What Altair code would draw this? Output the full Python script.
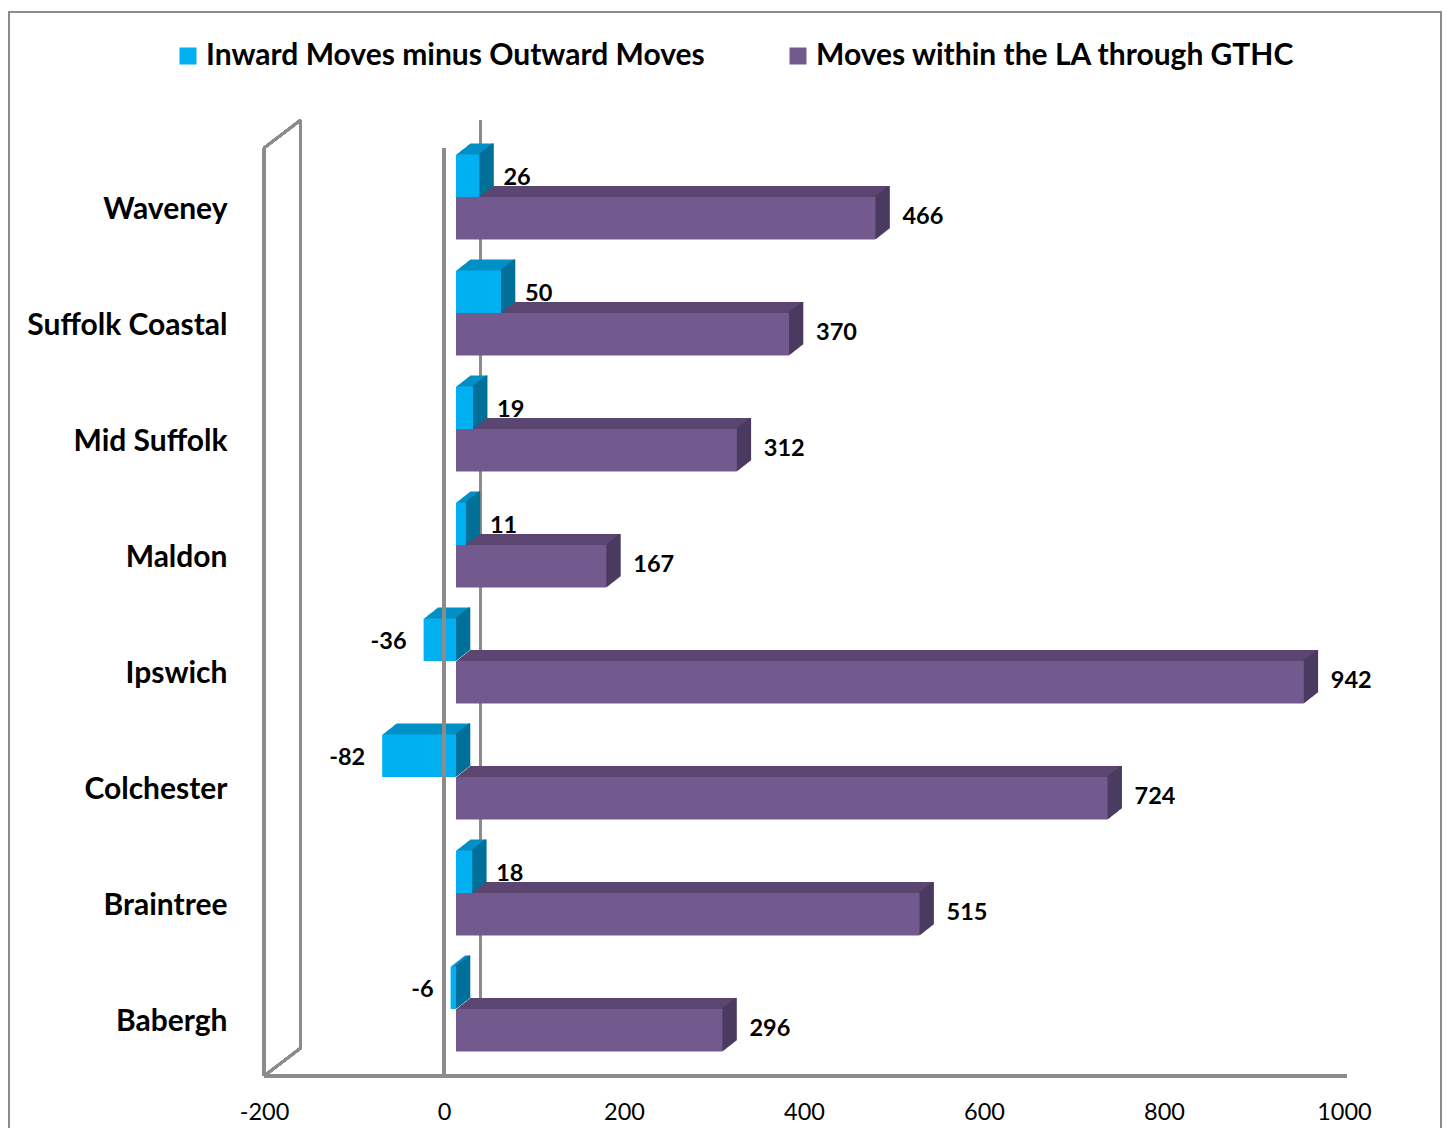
import altair as alt
import pandas as pd

# ---------------- data ----------------
categories = ["Waveney", "Suffolk Coastal", "Mid Suffolk", "Maldon",
              "Ipswich", "Colchester", "Braintree", "Babergh"]
series_names = ["Inward Moves minus Outward Moves",
                "Moves within the LA through GTHC"]
net_moves = [26, 50, 19, 11, -36, -82, 18, -6]
within_moves = [466, 370, 312, 167, 942, 724, 515, 296]
x_ticks = [-200, 0, 200, 400, 600, 800, 1000]

# ---------------- styles ----------------
FRONT = {series_names[0]: "#00B0F0", series_names[1]: "#735A8E"}
TOP = {series_names[0]: "#0090C6", series_names[1]: "#5B4672"}
SIDE = {series_names[0]: "#00709A", series_names[1]: "#4B3B60"}
GRAY = "#8C8C8C"
FONT = "Lato"

W, H = 1080, 928
BAR_H = 42.5
SERIES_SHIFT = {series_names[0]: -BAR_H / 2, series_names[1]: BAR_H / 2}
BASE_DX, BASE_DY = 12, -9          # bars sit a bit behind the front plane
DEPTH_DX, DEPTH_DY = 14, -11       # bar extrusion
WALL_DX, WALL_DY = 36.7, -28       # full depth of the box
N = 14

rows = []
for s, vals in zip(series_names, [net_moves, within_moves]):
    for c, v in zip(categories, vals):
        rows.append({"category": c, "series": s, "value": v, "end": max(v, 0),
                     "label": str(v)})
df = pd.DataFrame(rows)

base = alt.Chart(df)
xscale = alt.Scale(domain=[x_ticks[0], x_ticks[-1]], nice=False, zero=False)
yenc = alt.Y("category:N", sort=categories,
             scale=alt.Scale(paddingInner=0.27, paddingOuter=0.135),
             axis=alt.Axis(title=None, domain=False, ticks=False, grid=False,
                           labelFont=FONT, labelFontWeight="bold", labelFontSize=30,
                           labelColor="#000000", labelPadding=37, labelLimit=0,
                           labelOffset=4))
xenc = alt.X("value:Q", scale=xscale,
             axis=alt.Axis(title=None, domain=False, ticks=False, grid=False,
                           values=x_ticks, labelExpr="toString(datum.value)",
                           labelFlush=False, labelOverlap=False, labelFont=FONT,
                           labelFontSize=23.5, labelColor="#000000", labelPadding=24))

layers = []

# left wall and back zero line (decoration)
def rule(x1, x2, y1, y2, x2off=0.0, xoff=0.0):
    return base.mark_rule(color=GRAY, strokeWidth=2.5, xOffset=xoff, x2Offset=x2off).encode(
        x=alt.datum(x1), x2=alt.datum(x2), y=alt.value(y1), y2=alt.value(y2))

layers.append(rule(x_ticks[0], x_ticks[0], 0, H))
layers.append(rule(x_ticks[0], x_ticks[0], WALL_DY, H + WALL_DY, xoff=WALL_DX, x2off=WALL_DX))
layers.append(rule(x_ticks[0], x_ticks[0], 0, WALL_DY, x2off=WALL_DX))
layers.append(rule(x_ticks[0], x_ticks[0], H, H + WALL_DY, x2off=WALL_DX))
layers.append(rule(0, 0, WALL_DY, H + WALL_DY, xoff=WALL_DX, x2off=WALL_DX))

# extrusion (top colour)
for s in series_names:
    for k in range(N, 0, -1):
        dx = BASE_DX + DEPTH_DX * k / N
        dy = BASE_DY + SERIES_SHIFT[s] + DEPTH_DY * k / N
        layers.append(
            base.transform_filter(alt.datum.series == s)
            .mark_bar(color=TOP[s], height=BAR_H, xOffset=dx, x2Offset=dx, yOffset=dy)
            .encode(x=xenc, x2=alt.datum(0), y=yenc))

# side faces
for s in series_names:
    for k in range(N, 0, -1):
        dx = BASE_DX + DEPTH_DX * k / N
        dy = BASE_DY + SERIES_SHIFT[s] + DEPTH_DY * k / N
        layers.append(
            base.transform_filter(alt.datum.series == s)
            .mark_bar(color=SIDE[s], height=BAR_H, xOffset=dx - 1.6, x2Offset=dx + 0.3, yOffset=dy)
            .encode(x=alt.X("end:Q", scale=xscale), x2=alt.X2("end:Q"), y=yenc))

# front faces
for s in series_names:
    layers.append(
        base.transform_filter(alt.datum.series == s)
        .mark_bar(height=BAR_H, xOffset=BASE_DX, x2Offset=BASE_DX,
                  yOffset=BASE_DY + SERIES_SHIFT[s])
        .encode(x=xenc, x2=alt.datum(0), y=yenc,
                color=alt.Color("series:N",
                                scale=alt.Scale(domain=series_names,
                                                range=[FRONT[n] for n in series_names]),
                                legend=alt.Legend(title=None, orient="none",
                                                  direction="horizontal",
                                                  legendX=-91, legendY=-107,
                                                  symbolType="square", symbolSize=289,
                                                  symbolStrokeWidth=0,
                                                  labelFont=FONT, labelFontWeight="bold",
                                                  labelFontSize=30, labelColor="#000000",
                                                  labelLimit=0, labelOffset=3,
                                                  columnPadding=78))))

# front zero line and floor
layers.append(rule(0, 0, 0, H))
layers.append(rule(x_ticks[0], x_ticks[-1], H, H, x2off=2.7))

# value labels
lab = dict(font=FONT, fontWeight="bold", fontSize=23.5, color="#000000", baseline="middle")
s0, s1 = series_names
layers.append(base.transform_filter((alt.datum.series == s0) & (alt.datum.value >= 0))
              .mark_text(align="left", dx=BASE_DX + 24, dy=BASE_DY + SERIES_SHIFT[s0] + 2, **lab)
              .encode(x=alt.X("value:Q", scale=xscale), y=yenc, text="label:N"))
layers.append(base.transform_filter((alt.datum.series == s0) & (alt.datum.value < 0))
              .mark_text(align="right", dx=BASE_DX - 17, dy=BASE_DY + SERIES_SHIFT[s0] + 2, **lab)
              .encode(x=alt.X("value:Q", scale=xscale), y=yenc, text="label:N"))
layers.append(base.transform_filter(alt.datum.series == s1)
              .mark_text(align="left", dx=BASE_DX + 27, dy=BASE_DY + SERIES_SHIFT[s1] - 1, **lab)
              .encode(x=alt.X("value:Q", scale=xscale), y=yenc, text="label:N"))

# outer chart border
layers.append(base.mark_rect(fill=None, stroke=GRAY, strokeWidth=2).encode(
    x=alt.value(-255.5), x2=alt.value(1177), y=alt.value(-136), y2=alt.value(1000)))

chart = alt.layer(*layers).properties(
    width=W, height=H,
    background="white",
    autosize=alt.AutoSizeParams(type="none"),
    padding={"left": 256, "top": 140, "right": 98, "bottom": 52},
).configure_view(stroke="transparent", strokeWidth=0)

chart.save("out.html", embed_options={"renderer": "svg", "actions": False})
